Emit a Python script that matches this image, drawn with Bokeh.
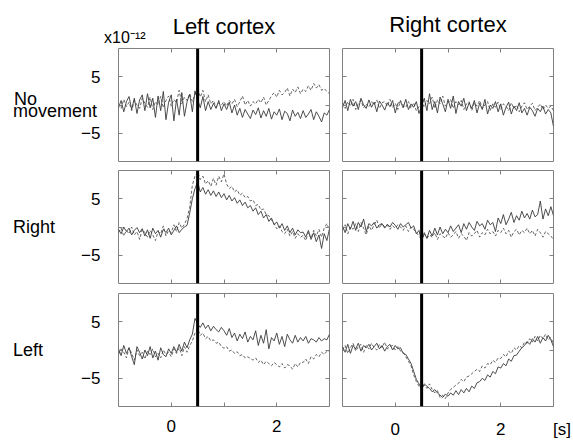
import numpy as np
from bokeh.plotting import figure
from bokeh.layouts import gridplot
from bokeh.models import Span, FixedTicker, LinearAxis, Range1d
from bokeh.embed import file_html
from bokeh.resources import INLINE

# ---------------- data ----------------
time_s = np.linspace(-1.0, 3.0, 81)
onset_s = 0.5
column_titles = ["Left cortex", "Right cortex"]
row_labels = ["No" + "\u00a0" * 12 + "\nmovement", "Right", "Left"]
x_ticks = [0, 1, 2]
x_tick_labels = {0: "0", 1: "", 2: "2"}
y_ticks = [-5, 0, 5]
y_tick_labels = {-5: "\u22125", 0: "", 5: "5"}
scale_text = "x10\u207b\u00b9\u00b2"
x_unit = "\u2002\u2002[s]"

# No movement, left cortex
nomove_left_solid = [
    -0.5, 0.8, -1.2, 0.6, 1.5, -0.8, 1.2, -1.5, 0.9, 1.8,
    -1.0, 2.0, -0.5, 1.2, -2.2, 1.6, -1.0, 2.4, -2.6, 0.5,
    1.8, -2.8, 1.0, -1.8, 2.2, -2.0, 0.6, 1.9, -1.2, 2.5,
    1.0, -0.5, 1.5, -1.0, 0.6, -0.8, 0.3, -0.6, 0.8, -1.0,
    0.2, -0.8, 0.5, -1.4, 0.0, -1.8, -0.6, -2.2, -0.8, -1.6,
    -2.4, -0.9, -1.7, -0.5, -2.3, -1.0, -2.0, -0.6, -2.5, -1.2,
    -1.8, -0.7, -2.6, -1.1, -1.5, -2.8, -0.9, -2.0, -1.3, -2.4,
    -1.0, -2.2, -1.6, -0.8, -2.6, -1.2, -2.0, -3.0, -1.4, -1.8,
    -0.8]
nomove_left_dashed = [
    0.2, -0.6, 1.0, -0.3, 0.5, -1.0, 0.8, 0.0, -0.6, 1.2,
    0.3, -0.4, 1.4, -0.8, 0.6, 0.0, 1.5, -0.5, 0.8, 1.6,
    -0.2, 1.0, 0.4, 2.6, 0.2, 1.4, 0.8, 2.0, 0.6, 1.8,
    3.2, 1.4, 2.6, 0.6, 1.8, 0.2, 0.8, -0.4, 0.4, 0.0,
    0.6, -0.2, 0.8, 0.2, 1.0, -0.3, 0.6, 1.6, 0.0, 0.8,
    -0.2, 0.6, 0.2, 1.0, 0.4, 1.4, 0.0, 0.8, 1.6, 2.2,
    1.4, 2.6, 1.8, 2.2, 3.0, 1.6, 2.8, 2.2, 3.2, 2.0,
    2.8, 2.4, 3.4, 2.6, 3.8, 3.0, 3.6, 2.6, 2.9, 2.4,
    2.0]
# No movement, right cortex
nomove_right_solid = [
    -0.5, 0.8, -1.0, 1.0, -0.2, 0.6, -0.8, 1.2, 0.0, -0.6,
    0.9, -0.4, 0.5, -1.2, 0.7, 0.0, -0.9, 0.4, -0.3, 0.8,
    -1.4, 0.3, 0.6, -0.5, 1.0, -0.8, 0.2, -0.4, 0.6, -1.5,
    -0.2, 1.2, -1.0, 2.0, -0.8, 0.6, -1.4, 1.4, 0.2, -1.2,
    1.0, -0.6, 1.6, -1.5, 0.6, -0.2, 1.2, -1.0, 0.4, -0.6,
    0.8, -1.4, 0.3, -0.8, 1.0, -1.6, 0.0, -0.6, 0.6, -1.2,
    0.2, -1.8, -0.4, 0.5, -1.6, -0.2, -1.0, 0.4, -1.4, -0.6,
    -1.8, -0.4, -1.0, -2.0, -0.6, -1.2, -0.2, -1.6, -0.8, -1.4,
    -3.8]
nomove_right_dashed = [
    0.4, -0.6, 0.6, -0.2, 1.0, -0.8, 0.3, 0.8, -0.5, 0.2,
    -0.4, 0.6, 0.0, 0.9, -0.6, 0.4, 0.6, -0.2, 1.0, -0.5,
    0.3, -0.8, 0.8, 0.0, -0.4, 0.6, -0.6, 0.4, -1.0, -0.3,
    0.5, -0.4, 0.8, 0.2, 1.4, -0.6, 0.9, 0.2, 1.6, -0.2,
    0.4, 1.0, -0.6, 0.6, 0.0, 0.8, -0.8, 0.2, 0.6, -1.0,
    0.4, -0.2, 0.8, -0.6, 0.0, 0.6, -1.0, 0.2, -0.4, 0.5,
    -0.8, 0.2, -0.2, -1.0, 0.4, -0.6, 0.0, -1.2, -0.2, 0.4,
    -0.8, -0.2, 0.3, -1.0, -0.4, 0.2, -0.8, 0.0, -0.6, -0.2,
    -1.0]
# Right movement, left cortex
rightmove_left_solid = [
    -0.4, -1.2, 0.0, -0.8, -0.2, -1.4, -0.6, -0.1, -1.0, -0.3,
    -1.6, -0.5, -2.0, -0.2, -1.2, -0.6, -1.8, -0.4, -1.0, -0.2,
    -1.4, -0.6, 0.2, -1.0, -0.4, 0.0, 0.3, 2.5, 5.0, 6.8,
    8.0, 6.2, 7.0, 5.8, 6.6, 5.6, 6.4, 5.4, 6.2, 5.2,
    5.9, 4.8, 5.6, 4.6, 5.2, 4.2, 4.8, 3.8, 4.4, 3.4,
    3.8, 2.8, 3.4, 2.2, 2.8, 1.6, 2.2, 1.0, 1.6, 0.4,
    0.9, -0.2, 0.6, -0.6, 0.2, -1.0, -0.2, -1.4, -0.5, -1.0,
    -0.9, -1.8, -0.6, -2.2, -1.0, -2.6, -1.4, -3.8, -1.2, -2.4,
    -0.3]
rightmove_left_dashed = [
    -1.0, -0.2, -1.6, -0.6, -1.2, 0.0, -1.4, -0.8, -2.2, -0.4,
    -1.0, -1.8, -0.6, -1.4, -2.4, -0.8, -1.2, 0.2, -1.6, -0.6,
    -1.0, 0.4, -0.8, 0.8, -0.2, 0.5, 1.5, 3.5, 7.4, 9.0,
    9.8, 8.4, 9.0, 7.6, 8.2, 7.2, 8.6, 7.4, 9.0, 8.0,
    9.4, 7.6, 6.8, 7.2, 6.2, 6.6, 5.6, 6.0, 5.2, 5.4,
    4.6, 4.8, 3.8, 4.0, 3.0, 3.2, 2.2, 2.0, 1.2, 0.6,
    -0.3, 0.2, -0.8, -1.2, -0.4, -1.6, -0.8, -2.0, -1.2, -1.8,
    -1.5, -2.4, -1.0, -2.0, -0.6, -1.6, -0.4, -1.8, -0.2, 0.6,
    -0.6]
# Right movement, right cortex
rightmove_right_solid = [
    0.2, -1.0, 0.6, -0.4, 1.0, -0.6, 0.8, 0.0, 1.4, -0.8,
    0.6, 0.2, 0.8, -0.2, 0.4, 0.6, -0.2, 0.5, 0.0, 0.8,
    0.3, -0.4, 0.6, 0.0, 0.4, 0.8, -0.2, 0.2, -1.2, -0.6,
    -2.6, -1.0, -2.0, -0.6, -1.6, -0.2, -1.4, 0.0, -1.2, -0.4,
    -1.0, 0.2, -0.8, -0.2, 0.4, -1.0, 0.6, -0.4, 0.8, 0.0,
    -0.6, 1.0, 0.2, 0.6, -0.4, 1.2, 0.4, 0.8, -0.8, 1.6,
    0.6, 2.2, 0.4, 1.4, 2.6, 0.8, 2.0, 1.2, 2.8, 1.6,
    2.4, 1.4, 3.0, 1.8, 2.2, 4.6, 1.4, 3.2, 2.0, 3.6,
    2.0]
rightmove_right_dashed = [
    -0.6, 0.4, -1.2, 0.0, -0.4, 0.6, -0.8, 0.8, -0.2, -1.4,
    0.2, -0.6, 0.4, 1.2, -0.2, 0.6, 0.0, 0.3, -0.4, 0.2,
    -0.2, 0.4, 0.0, -0.6, 0.2, -0.8, 0.0, -0.4, -1.0, -1.6,
    -2.2, -1.2, -2.0, -1.4, -1.8, -1.0, -2.2, -1.2, -1.6, -2.0,
    -1.0, -1.8, -1.4, -0.8, -2.0, -1.2, -1.6, -2.4, -1.0, -1.6,
    -1.2, -0.6, -1.8, -1.0, -1.4, -0.4, -1.2, -0.8, -1.6, -0.6,
    -1.0, -0.2, -1.2, -0.6, -1.8, -0.8, -0.4, -1.4, -0.6, -1.0,
    -0.2, -1.2, -0.6, -1.6, -0.4, -1.0, -1.8, -0.8, -1.2, -1.6,
    -2.2]
# Left movement, left cortex
leftmove_left_solid = [
    0.2, -1.0, 0.8, -0.6, 0.4, -1.2, -2.6, 0.6, -0.4, -1.6,
    0.0, -1.0, 0.6, -1.4, -0.2, -1.8, 0.4, -0.8, -1.2, 0.2,
    -0.6, 0.6, -0.4, 1.0, -0.2, 1.4, 0.4, 1.8, 2.8, 5.6,
    4.6, 4.0, 4.8, 3.8, 4.4, 3.4, 4.2, 3.6, 3.2, 4.0,
    3.4, 2.6, 3.8, 2.2, 3.0, 1.6, 2.8, 2.0, 3.2, 1.4,
    2.4, 1.8, 3.4, 0.8, 2.6, 1.2, 3.6, 0.2, 2.2, 1.6,
    3.0, 1.0, 2.4, 0.6, 2.8, 1.8, 1.2, 2.6, 1.4, 2.2,
    1.6, 2.4, 1.2, 2.0, 1.8, 1.4, 2.2, 1.6, 2.0, 1.8,
    2.8]
leftmove_left_dashed = [
    -0.8, 0.2, -0.4, -1.4, 0.4, -0.6, -1.8, 0.0, -1.0, -0.4,
    -1.6, -0.2, -0.8, 0.2, -1.2, -0.6, -1.4, 0.0, -0.8, -0.4,
    -1.2, 0.2, -0.6, 0.4, -1.0, 0.6, -0.4, 0.8, 1.6, 3.0,
    3.8, 2.6, 3.0, 2.0, 2.4, 1.6, 1.8, 1.2, 1.4, 0.6,
    0.3, 0.6, -0.2, 0.0, -0.6, -0.3, -1.0, -0.8, -1.4, -1.2,
    -1.5, -1.8, -1.4, -2.2, -1.8, -2.6, -2.0, -2.4, -2.8, -2.2,
    -2.6, -3.0, -2.4, -3.2, -2.6, -2.8, -3.4, -2.4, -3.0, -2.2,
    -2.2, -1.6, -2.4, -1.2, -1.6, -0.8, -1.2, -0.4, -0.8, -0.2,
    -0.3]
# Left movement, right cortex
leftmove_right_solid = [
    0.6, -0.4, 1.0, -0.6, 0.8, 0.2, 1.2, -0.2, 0.8, 0.4,
    1.0, 0.0, 0.6, 1.2, 0.2, 0.8, -0.2, 0.6, 1.0, 0.0,
    0.8, 0.2, 0.4, -0.6, -0.8, -1.6, -2.4, -3.8, -5.2, -6.0,
    -6.8, -6.0, -6.4, -6.8, -7.4, -7.0, -7.6, -8.0, -8.4, -7.8,
    -8.2, -7.6, -8.0, -7.2, -7.9, -7.0, -7.6, -6.8, -7.4, -6.4,
    -6.8, -5.8, -5.6, -5.0, -5.4, -4.4, -4.8, -3.8, -4.2, -3.0,
    -3.2, -2.4, -2.8, -1.6, -2.0, -1.0, -0.9, -0.2, 0.4, 0.8,
    1.5, 1.0, 2.0, 1.4, 2.4, 1.2, 2.2, 1.6, 2.6, 1.8,
    0.6]
leftmove_right_dashed = [
    0.0, 0.8, -0.6, 0.4, 1.2, -0.2, 0.6, 1.0, -0.4, 0.8,
    0.2, 1.2, 0.4, 0.0, 1.0, 0.4, 1.4, 0.2, 0.6, 0.8,
    0.0, 0.6, -0.2, -0.4, -1.2, -2.0, -2.8, -4.4, -5.6, -6.4,
    -7.0, -6.2, -6.8, -6.0, -7.0, -7.6, -7.2, -8.4, -8.0, -8.6,
    -7.6, -7.0, -6.6, -6.2, -5.9, -5.2, -5.6, -4.8, -4.6, -4.2,
    -3.8, -3.4, -3.8, -2.8, -3.2, -2.4, -2.6, -1.8, -2.2, -1.4,
    -1.5, -0.8, -1.2, -0.2, -0.6, 0.4, 0.0, 0.8, 0.4, 1.4,
    1.2, 2.0, 1.4, 2.4, 1.6, 2.6, 2.0, 2.8, 1.8, 2.2,
    1.0]

series = [
    [(nomove_left_solid, nomove_left_dashed), (nomove_right_solid, nomove_right_dashed)],
    [(rightmove_left_solid, rightmove_left_dashed), (rightmove_right_solid, rightmove_right_dashed)],
    [(leftmove_left_solid, leftmove_left_dashed), (leftmove_right_solid, leftmove_right_dashed)],
]

# ---------------- style ----------------
FONT = "Liberation Sans"
FRAME_W, FRAME_H = 211, 113
BORDER_LR = [(118, 6), (7, 19)]
BORDER_TB = [(48, 4), (5, 5), (5, 36)]
GRAY = "#808080"
SCALE_POS = -0.88          # where the exponent note sits along the top edge
ROW_LABEL_STANDOFF = [-19, 23, 35]
TITLE_STANDOFF = [-13, 12]


def style_axis(axis, ticks, labels, show):
    axis.ticker = FixedTicker(ticks=ticks)
    axis.major_label_overrides = labels
    axis.axis_line_color = None
    axis.major_tick_in = 4
    axis.major_tick_out = 0
    axis.major_tick_line_color = GRAY
    axis.minor_tick_line_color = None
    axis.major_label_text_font = FONT
    axis.major_label_text_color = "black"
    if show:
        axis.major_label_text_font_size = "17px"
    else:
        axis.major_label_text_font_size = "0px"
        axis.major_label_standoff = 0


grid = []
for r in range(3):
    row_figs = []
    for c in range(2):
        bl, br = BORDER_LR[c]
        bt, bb = BORDER_TB[r]
        p = figure(frame_width=FRAME_W, frame_height=FRAME_H,
                   x_range=Range1d(-1, 3), y_range=Range1d(-10, 10),
                   output_backend="svg", toolbar_location=None,
                   min_border_left=bl, min_border_right=br,
                   min_border_top=bt, min_border_bottom=bb)
        p.xgrid.visible = False
        p.ygrid.visible = False
        p.outline_line_color = GRAY
        p.outline_line_width = 1
        p.background_fill_color = "white"
        p.border_fill_color = "white"

        # bottom axis
        xb = p.xaxis[0]
        if r == 2:
            ticks = list(x_ticks)
            labels = dict(x_tick_labels)
            if c == 1:
                ticks.append(3)
                labels[3] = x_unit
            style_axis(xb, ticks, labels, True)
            xb.major_label_standoff = 13
        else:
            style_axis(xb, x_ticks, x_tick_labels, False)

        # left axis (with row label)
        yl = p.yaxis[0]
        style_axis(yl, y_ticks, y_tick_labels, c == 0)
        if c == 0:
            yl.major_label_standoff = 18
            yl.axis_label = row_labels[r]
            yl.axis_label_orientation = "horizontal"
            yl.axis_label_standoff = ROW_LABEL_STANDOFF[r]
            yl.axis_label_text_font = FONT
            yl.axis_label_text_font_size = "18px"
            yl.axis_label_text_font_style = "normal"
            yl.axis_label_text_color = "black"
            yl.axis_label_text_align = "left"
            yl.axis_label_text_line_height = 0.6

        # top tick axis
        top_ax = LinearAxis()
        style_axis(top_ax, x_ticks, x_tick_labels, False)
        p.add_layout(top_ax, "above")

        # column heading axis
        if r == 0:
            head = LinearAxis(axis_line_color=None, minor_tick_line_color=None,
                              major_tick_in=0, major_tick_out=0,
                              major_label_standoff=3 if c == 0 else 0,
                              major_label_text_font=FONT,
                              major_label_text_font_size="16px",
                              major_label_text_color="black",
                              axis_label=column_titles[c],
                              axis_label_standoff=TITLE_STANDOFF[c],
                              axis_label_text_font=FONT,
                              axis_label_text_font_size="22px",
                              axis_label_text_font_style="normal",
                              axis_label_text_color="black")
            if c == 0:
                head.ticker = FixedTicker(ticks=[SCALE_POS])
                head.major_label_overrides = {SCALE_POS: scale_text}
            else:
                head.ticker = FixedTicker(ticks=[])
            p.add_layout(head, "above")

        right_ax = LinearAxis()
        style_axis(right_ax, y_ticks, y_tick_labels, False)
        p.add_layout(right_ax, "right")

        solid, dashed = series[r][c]
        p.line(time_s, dashed, line_color="#555555", line_width=0.9, line_dash="3 2")
        p.line(time_s, solid, line_color="#3a3a3a", line_width=0.9)
        p.add_layout(Span(location=onset_s, dimension="height",
                          line_color="black", line_width=3))
        row_figs.append(p)
    grid.append(row_figs)

layout = gridplot(grid, toolbar_location=None)
open("out.html", "w").write(file_html(layout, INLINE))
